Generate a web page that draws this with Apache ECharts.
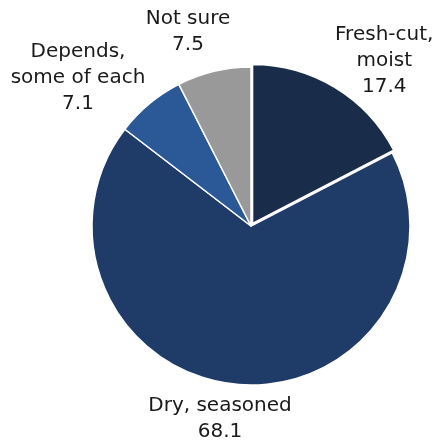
<!DOCTYPE html>
<html>
<head>
<meta charset="utf-8">
<script src="https://cdn.jsdelivr.net/npm/echarts@6/dist/echarts.min.js"></script>
<style>
  html, body { margin: 0; padding: 0; background: #fff; }
  #chart { width: 435px; height: 442px; }
</style>
</head>
<body>
<div id="chart"></div>
<script>
// slices, clockwise from 12 o'clock
const categories = ['Fresh-cut,\nmoist', 'Dry, seasoned', 'Depends,\nsome of each', 'Not sure']
const values = [17.4, 68.1, 7.1, 7.5]
const colors = ['#192d4a', '#1f3c68', '#2b5896', '#999999']
// label anchor points (centre of text block)
const labelPos = [[383, 59], [220, 419], [78, 78], [188, 32]]

const chart = echarts.init(document.getElementById('chart'))

chart.setOption({
  animation: false,
  series: [{
    type: 'pie',
    center: [251, 226],
    radius: 159,
    startAngle: 90,
    clockwise: true,
    selectedMode: 'single',
    selectedOffset: 3,
    itemStyle: {
      borderColor: '#fff',
      borderWidth: 1.5
    },
    label: {
      show: true,
      position: 'outside',
      formatter: p => p.name + '\n' + p.value,
      color: '#1a1a1a',
      fontFamily: 'DejaVu Sans',
      fontSize: 20,
      lineHeight: 26,
      align: 'center',
      overflow: 'none',
      width: 200
    },
    // the selected slice keeps its default label spot, so steer it with the line lengths
    labelLine: { show: false, length: 31, length2: 28 },
    labelLayout: params => ({
      x: labelPos[params.dataIndex][0],
      y: labelPos[params.dataIndex][1],
      align: 'center',
      verticalAlign: 'middle'
    }),
    data: categories.map((name, i) => ({
      name: name,
      value: values[i],
      selected: i === 0,
      itemStyle: { color: colors[i] }
    }))
  }]
})
</script>
</body>
</html>
